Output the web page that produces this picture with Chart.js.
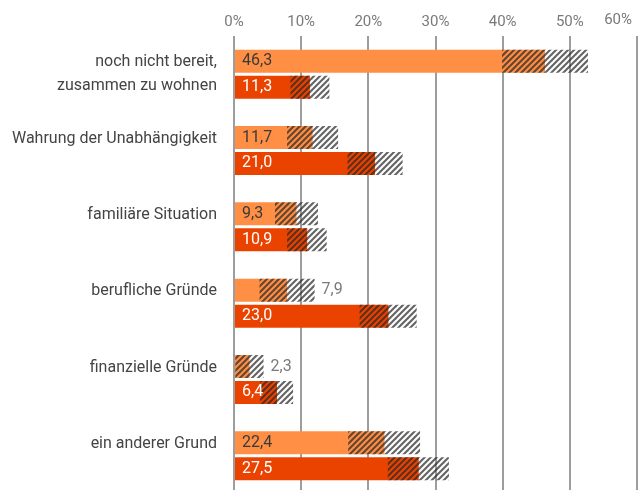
<!DOCTYPE html>
<html>
<head>
<meta charset="utf-8">
<script src="https://cdn.jsdelivr.net/npm/chart.js@4/dist/chart.umd.min.js"></script>
<style>
  html, body { margin: 0; padding: 0; background: #fff; overflow: hidden; }
  #wrap { width: 639px; height: 494px; }
</style>
</head>
<body>
<div id="wrap"><canvas id="grafico"></canvas></div>
<script>
// categorias (rótulos em duas linhas)
const categorias = [
  ['noch nicht bereit,', 'zusammen zu wohnen'],
  ['Wahrung der Unabhängigkeit', ''],
  ['familiäre Situation', ''],
  ['berufliche Gründe', ''],
  ['finanzielle Gründe', ''],
  ['ein anderer Grund', '']
];

// série clara
const valoresA = [46.3, 11.7, 9.3, 7.9, 2.3, 22.4];
const minA = [39.9, 7.9, 6.1, 3.8, 0.2, 17.0];
const maxA = [52.7, 15.5, 12.5, 12.0, 4.4, 27.7];

// série escura
const valoresB = [11.3, 21.0, 10.9, 23.0, 6.4, 27.5];
const minB = [8.4, 16.9, 7.9, 18.7, 3.9, 22.9];
const maxB = [14.2, 25.1, 13.8, 27.2, 8.8, 32.0];

const ticksX = [0, 10, 20, 30, 40, 50, 60];

const corA = '#FF8F45';
const corB = '#EA4300';
const fonte = 'Roboto';

// padrão hachurado (listras diagonais)
function hachura() {
  const c = document.createElement('canvas');
  c.width = 12; c.height = 12;
  const ctx = c.getContext('2d');
  ctx.strokeStyle = 'rgba(40,40,40,0.72)';
  ctx.lineWidth = 2.1;
  for (let k = -12; k <= 24; k += 6) {
    ctx.beginPath();
    ctx.moveTo(k - 14, 14);
    ctx.lineTo(k + 14, -14);
    ctx.stroke();
  }
  return ctx.createPattern(c, 'repeat');
}
const padrao = hachura();

const fmt = v => v.toFixed(1).replace('.', ',');

// rótulos dos valores
const rotulos = {
  id: 'rotulos',
  afterDatasetsDraw(chart) {
    const ctx = chart.ctx;
    const x = chart.scales.x;
    ctx.save();
    ctx.font = '16px ' + fonte;
    ctx.textBaseline = 'middle';
    ctx.textAlign = 'left';
    [[0, valoresA, minA, maxA, '#3a3a3a'], [1, valoresB, minB, maxB, '#ffffff']].forEach(([ds, vals, mins, maxs, cor]) => {
      const meta = chart.getDatasetMeta(ds);
      meta.data.forEach((bar, i) => {
        const txt = fmt(vals[i]);
        const w = ctx.measureText(txt).width;
        const espaco = x.getPixelForValue(mins[i]) - bar.base;
        if (ds === 0 && espaco < w + 8) {
          ctx.fillStyle = '#7a7a7a';
          ctx.fillText(txt, x.getPixelForValue(maxs[i]) + 7, bar.y);
        } else {
          ctx.fillStyle = cor;
          ctx.fillText(txt, bar.base + 7, bar.y);
        }
      });
    });
    // último tick do eixo x, alinhado à direita
    const ult = ticksX[ticksX.length - 1];
    ctx.font = '15px ' + fonte;
    ctx.fillStyle = '#7a7a7a';
    ctx.textAlign = 'right';
    ctx.fillText(ult + '%', x.getPixelForValue(ult) - 5, 20.5);
    ctx.restore();
  }
};

new Chart(document.getElementById('grafico'), {
  type: 'bar',
  data: {
    labels: categorias,
    datasets: [
      { data: valoresA, backgroundColor: corA, stack: 'A', order: 1 },
      { data: valoresB, backgroundColor: corB, stack: 'B', order: 1 },
      { data: minA.map((m, i) => [m, maxA[i]]), backgroundColor: padrao, stack: 'A', order: 0 },
      { data: minB.map((m, i) => [m, maxB[i]]), backgroundColor: padrao, stack: 'B', order: 0 }
    ]
  },
  options: {
    indexAxis: 'y',
    responsive: true,
    maintainAspectRatio: false,
    animation: false,
    categoryPercentage: 0.681,
    barPercentage: 0.885,
    layout: { padding: { left: 0, right: 2, top: 0, bottom: 0 } },
    plugins: { legend: { display: false }, tooltip: { enabled: false } },
    scales: {
      x: {
        position: 'top',
        stacked: false,
        min: ticksX[0],
        max: ticksX[ticksX.length - 1],
        afterBuildTicks: s => { s.ticks = ticksX.map(v => ({ value: v })); },
        afterFit: s => { s.height = 36; s.paddingLeft = 0; s.paddingRight = 0; },
        ticks: {
          callback: v => v === ticksX[ticksX.length - 1] ? '' : v + '%',
          font: { family: fonte, size: 15 },
          color: '#7a7a7a',
          padding: 5,
          maxRotation: 0
        },
        grid: { color: '#9d9d9d', lineWidth: 2, drawTicks: false },
        border: { display: false }
      },
      y: {
        afterFit: s => { s.width = 234; s.paddingTop = 0; s.paddingBottom = 0; },
        ticks: {
          font: { family: fonte, size: 16, lineHeight: 1.5 },
          color: '#444',
          padding: 17
        },
        grid: { display: false, drawTicks: false },
        border: { display: false }
      }
    }
  },
  plugins: [rotulos]
});
</script>
</body>
</html>
